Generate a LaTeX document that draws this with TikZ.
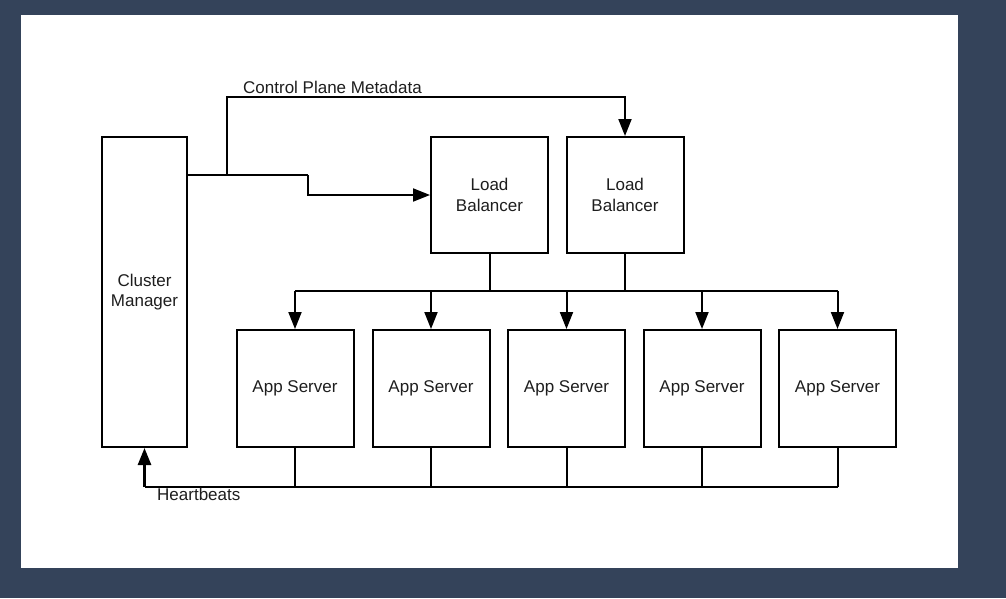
\documentclass[tikz,border=0pt]{standalone}
\usepackage{fontspec}
\setmainfont{Liberation Sans}
\usetikzlibrary{arrows.meta}
\definecolor{bgblue}{RGB}{52,67,90}
\definecolor{txt}{RGB}{30,30,30}
\begin{document}
\begin{tikzpicture}[x=1pt,y=-1pt,
  box/.style={draw=black,line width=2pt,fill=white,inner sep=0pt,align=center,
    text=txt,font=\fontsize{17}{20.5}\selectfont},
  wire/.style={draw=black,line width=2pt},
  arr/.style={wire,-{Triangle[length=17pt,width=13pt]}},
  lbl/.style={inner sep=0pt,text=txt,font=\fontsize{17}{20}\selectfont}]
\useasboundingbox (0,0) rectangle (1006,598);
\fill[bgblue] (0,0) rectangle (1006,598);
\fill[white] (21,15) rectangle (958,568);
% boxes
\node[box,minimum width=85pt,minimum height=310pt] (cm) at (144.5,292) {Cluster\\Manager};
\node[box,minimum width=117pt,minimum height=116pt] (lb1) at (489.5,195) {Load\\Balancer};
\node[box,minimum width=117pt,minimum height=116pt] (lb2) at (625,195) {Load\\Balancer};
\foreach \i/\x in {1/295,2/431,3/566.5,4/702,5/837.5}{
  \node[box,minimum width=117pt,minimum height=117pt] (a\i) at (\x,388.5) {App Server};
}
% coordinates
\coordinate (cmOut) at (187,175);
\coordinate (brA) at (227,175);
\coordinate (brAtop) at (227,97);
\coordinate (bendB) at (308,175);
\coordinate (busTop) at (0,291);
\coordinate (busBot) at (0,487);
\coordinate (hbEnd) at (cm.south |- busBot);
% control plane
\draw[wire] (cmOut) -- (bendB);
\draw[arr] (bendB) |- (lb1.west);
\draw[arr] (brA) -- (brAtop) -| (lb2.north);
\node[lbl,anchor=base west] (cpl) at (243,93) {Control Plane Metadata};
% load balancers to app servers
\draw[wire] (lb1.south) -- (lb1.south |- busTop);
\draw[wire] (lb2.south) -- (lb2.south |- busTop);
\draw[wire] (a1.north |- busTop) -- (a5.north |- busTop);
\foreach \i in {1,...,5}{
  \draw[arr] (a\i.north |- busTop) -- (a\i.north);
  \draw[wire] (a\i.south) -- (a\i.south |- busBot);
}
% heartbeats
\draw[wire] (a5.south |- busBot) -- (hbEnd);
\draw[arr,line width=2.6pt] (hbEnd) -- (cm.south);
\node[lbl,anchor=base west] (hbl) at (157,500) {Heartbeats};
\end{tikzpicture}
\end{document}
